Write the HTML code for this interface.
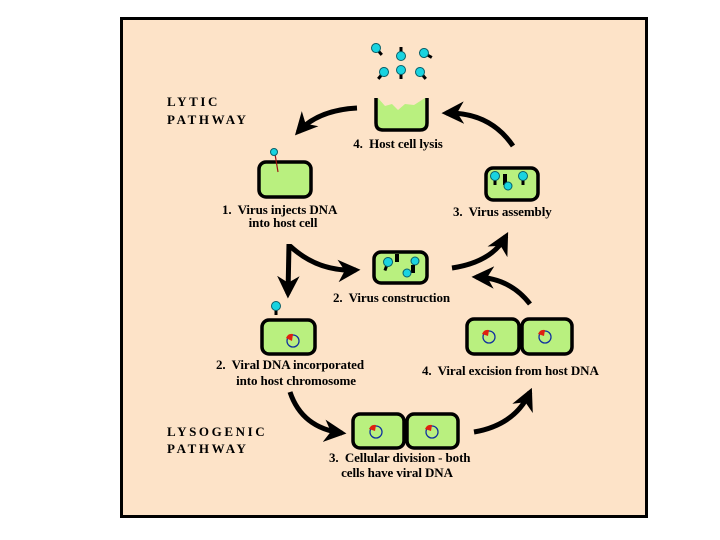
<!DOCTYPE html>
<html><head><meta charset="utf-8"><style>
html,body{margin:0;padding:0;background:#fff;}
svg{display:block}
text{font-family:"Liberation Serif",serif;font-weight:bold;fill:#000;}
.l{font-size:13px;letter-spacing:-0.1px}
.p{font-size:13px;letter-spacing:2.6px;font-weight:bold}
</style></head><body>
<svg width="720" height="540" viewBox="0 0 720 540" xmlns="http://www.w3.org/2000/svg">
<defs>
<marker id="ah" viewBox="0 0 10 10" refX="8" refY="5" markerWidth="4.5" markerHeight="4.5" orient="auto" markerUnits="strokeWidth">
<path d="M0,0 L10,5 L0,10 L3,5 z" fill="#000"/></marker>
<g id="vir"><rect x="-1.5" y="0" width="3" height="9" fill="#000"/><circle cx="0" cy="0" r="4.5" fill="#19d3e0" stroke="#08606a" stroke-width="1"/></g>
</defs>
<rect x="121.5" y="18.5" width="525" height="498" fill="#fde3c8" stroke="#000" stroke-width="3"/>

<text class="p" x="167" y="106">LYTIC</text>
<text class="p" x="167" y="124">PATHWAY</text>
<text class="p" x="167" y="436">LYSOGENIC</text>
<text class="p" x="167" y="453">PATHWAY</text>

<use href="#vir" transform="translate(376,48) rotate(-40)"/>
<use href="#vir" transform="translate(401,56) rotate(180)"/>
<use href="#vir" transform="translate(424,53) rotate(-60)"/>
<use href="#vir" transform="translate(384,72) rotate(40)"/>
<use href="#vir" transform="translate(401,70)"/>
<use href="#vir" transform="translate(420,72) rotate(-40)"/>

<path d="M376,98 L376,123 Q376,130 383,130 L420,130 Q427,130 427,123 L427,98" fill="#b9f07f" stroke="#000" stroke-width="3.5"/>
<path d="M378,98 L385,106 L392,104 L398,110 L405,104 L414,105 L425,98z" fill="#fde3c8"/>
<text class="l" x="398" y="148" text-anchor="middle">4.&#160; Host cell lysis</text>

<rect x="259" y="162" width="52" height="35" rx="7" fill="#b9f07f" stroke="#000" stroke-width="3.5"/>
<line x1="275" y1="154" x2="278" y2="172" stroke="#a01010" stroke-width="1.2"/>
<circle cx="274" cy="152" r="3.5" fill="#19d3e0" stroke="#08606a"/>
<text class="l" x="222" y="214">1.&#160; Virus injects DNA</text>
<text class="l" x="283" y="227" text-anchor="middle">into host cell</text>

<rect x="486" y="168" width="52" height="32" rx="7" fill="#b9f07f" stroke="#000" stroke-width="3.5"/>
<use href="#vir" transform="translate(495,176)"/>
<rect x="503" y="174" width="4" height="11" fill="#000"/>
<circle cx="508" cy="186" r="4" fill="#19d3e0" stroke="#08606a"/>
<use href="#vir" transform="translate(523,176)"/>
<text class="l" x="453" y="216">3.&#160; Virus assembly</text>

<rect x="374" y="252" width="53" height="31" rx="7" fill="#b9f07f" stroke="#000" stroke-width="3.5"/>
<use href="#vir" transform="translate(388,262) rotate(20)"/>
<rect x="395" y="254" width="4" height="8" fill="#000"/>
<circle cx="415" cy="261" r="4" fill="#19d3e0" stroke="#08606a"/>
<rect x="411" y="265" width="4" height="8" fill="#000"/>
<circle cx="407" cy="273" r="4" fill="#19d3e0" stroke="#08606a"/>
<text class="l" x="333" y="302">2.&#160; Virus construction</text>

<rect x="262" y="320" width="53" height="34" rx="7" fill="#b9f07f" stroke="#000" stroke-width="3.5"/>
<use href="#vir" transform="translate(276,306)"/>
<circle cx="293" cy="341" r="6" fill="none" stroke="#1030a0" stroke-width="1.3"/>
<path d="M286,338 Q288,333 293,334 L292,341z" fill="#e02010"/>
<text class="l" x="216" y="369">2.&#160; Viral DNA incorporated</text>
<text class="l" x="296" y="385" text-anchor="middle">into host chromosome</text>

<rect x="467" y="319" width="52" height="35" rx="7" fill="#b9f07f" stroke="#000" stroke-width="3.5"/>
<rect x="522" y="319" width="50" height="35" rx="7" fill="#b9f07f" stroke="#000" stroke-width="3.5"/>
<circle cx="489" cy="337" r="6" fill="none" stroke="#1030a0" stroke-width="1.3"/>
<path d="M482,334 Q484,329 489,330 L488,336z" fill="#e02010"/>
<circle cx="545" cy="337" r="6" fill="none" stroke="#1030a0" stroke-width="1.3"/>
<path d="M538,334 Q540,329 545,330 L544,336z" fill="#e02010"/>
<text class="l" x="422" y="375">4.&#160; Viral excision from host DNA</text>

<rect x="353" y="414" width="51" height="34" rx="7" fill="#b9f07f" stroke="#000" stroke-width="3.5"/>
<rect x="407" y="414" width="51" height="34" rx="7" fill="#b9f07f" stroke="#000" stroke-width="3.5"/>
<circle cx="376" cy="432" r="6" fill="none" stroke="#1030a0" stroke-width="1.3"/>
<path d="M369,429 Q371,424 376,425 L375,431z" fill="#e02010"/>
<circle cx="432" cy="432" r="6" fill="none" stroke="#1030a0" stroke-width="1.3"/>
<path d="M425,429 Q427,424 432,425 L431,431z" fill="#e02010"/>
<text class="l" x="329" y="462">3.&#160; Cellular division - both</text>
<text class="l" x="397" y="477" text-anchor="middle">cells have viral DNA</text>

<g fill="none" stroke="#000" stroke-width="5">
<path d="M357,108 Q318,110 298,132" marker-end="url(#ah)"/>
<path d="M513,146 Q490,112 446,113" marker-end="url(#ah)"/>
<path d="M289,244 L288,294" marker-end="url(#ah)"/>
<path d="M290,246 Q318,272 356,270" marker-end="url(#ah)"/>
<path d="M452,268 Q492,262 506,236" marker-end="url(#ah)"/>
<path d="M530,304 Q510,278 476,277" marker-end="url(#ah)"/>
<path d="M290,392 Q302,428 342,433" marker-end="url(#ah)"/>
<path d="M474,432 Q515,425 530,392" marker-end="url(#ah)"/>
</g>
</svg>
</body></html>
